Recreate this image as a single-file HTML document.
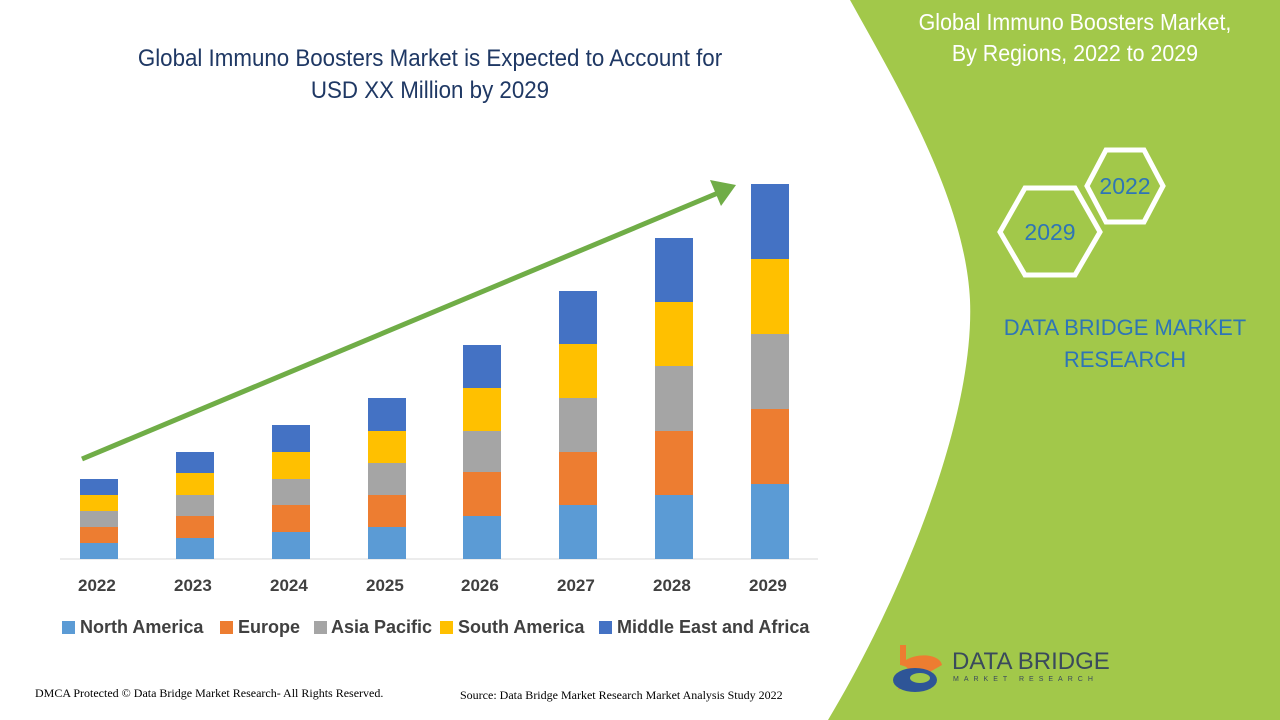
<!DOCTYPE html>
<html><head><meta charset="utf-8"><style>
body{margin:0;width:1280px;height:720px;overflow:hidden;background:#fff;font-family:"Liberation Sans",sans-serif;position:relative}
.t{position:absolute;white-space:nowrap}
</style></head><body>
<svg width="1280" height="720" style="position:absolute;left:0;top:0">
<path d="M850,0 L1280,0 L1280,720 L828,720 C900,600 975,420 970,300 C965,200 900,90 850,0 Z" fill="#a2c84a"/>
<g fill="none" stroke="#fff" stroke-width="5">
<polygon points="1106,150 1144,150 1163,186 1144,222 1106,222 1087,186"/>
<polygon points="1025,188 1075,188 1100,232 1075,275 1025,275 1000,232"/>
</g>
<line x1="818" y1="559" x2="60" y2="559" stroke="#d9d9d9" stroke-width="1"/>
<g id="bars"></g>
<line x1="82" y1="459" x2="718" y2="193" stroke="#70ad47" stroke-width="5"/>
<polygon points="736,185 710,180 721,206" fill="#70ad47"/>
<rect x="62" y="621" width="13" height="13" fill="#5b9bd5"/>
<rect x="220" y="621" width="13" height="13" fill="#ed7d31"/>
<rect x="314" y="621" width="13" height="13" fill="#a5a5a5"/>
<rect x="440" y="621" width="13" height="13" fill="#ffc000"/>
<rect x="599" y="621" width="13" height="13" fill="#4472c4"/>
<path d="M900,645 L906,645 L906,660 C920,652 940,655 942,665 L898,690 C905,672 915,668 900,665 Z" fill="#ed7d31"/>
<ellipse cx="915" cy="680" rx="22" ry="12" fill="#2e5597"/>
<ellipse cx="920" cy="678" rx="10" ry="5" fill="#a2c84a"/>
</svg>
<script>
var xs=[80,176,272,368,463,559,655,751];
var b=[[479,495,511,527,543],[452,473,495,516,538],[425,452,479,505,532],[398,431,463,495,527],[345,388,431,472,516],[291,344,398,452,505],[238,302,366,431,495],[184,259,334,409,484]];
var c=["#4472c4","#ffc000","#a5a5a5","#ed7d31","#5b9bd5"];
var s="";
for(var i=0;i<8;i++){var y=b[i].concat([559]);for(var k=0;k<5;k++){s+='<rect x="'+xs[i]+'" y="'+y[k]+'" width="38" height="'+(y[k+1]-y[k])+'" fill="'+c[k]+'"/>';}}
document.getElementById("bars").innerHTML=s;
</script>
<div class="t" style="left:70px;top:43px;width:720px;text-align:center;font-size:24px;color:#1f3864;line-height:32px;white-space:normal;transform:scaleX(0.93)">Global Immuno Boosters Market is Expected to Account for<br>USD XX Million by 2029</div>
<div class="t" style="left:865px;top:7px;width:420px;text-align:center;font-size:23px;color:#fff;line-height:31px;transform:scaleX(0.93)">Global Immuno Boosters Market,<br>By Regions, 2022 to 2029</div>
<div class="t" style="left:1087px;top:173px;width:76px;text-align:center;font-size:23px;color:#2e75b6">2022</div>
<div class="t" style="left:1000px;top:219px;width:100px;text-align:center;font-size:23px;color:#2e75b6">2029</div>
<div class="t" style="left:975px;top:312px;width:300px;text-align:center;font-size:22px;color:#2e75b6;line-height:32px">DATA BRIDGE MARKET<br>RESEARCH</div>
<div class="t" style="left:952px;top:648px;font-size:24px;color:#3a4a5c">DATA BRIDGE</div>
<div class="t" style="left:953px;top:676px;font-size:7px;color:#3a4a5c;letter-spacing:5px">MARKET RESEARCH</div>
<div style="position:absolute;top:576px;left:0;font-size:17px;font-weight:bold;color:#404040">
<span class="t" style="left:78px">2022</span><span class="t" style="left:174px">2023</span><span class="t" style="left:270px">2024</span><span class="t" style="left:366px">2025</span><span class="t" style="left:461px">2026</span><span class="t" style="left:557px">2027</span><span class="t" style="left:653px">2028</span><span class="t" style="left:749px">2029</span></div>
<div style="position:absolute;top:617px;left:0;font-size:18px;font-weight:bold;color:#404040">
<span class="t" style="left:80px">North America</span><span class="t" style="left:238px">Europe</span><span class="t" style="left:331px">Asia Pacific</span><span class="t" style="left:458px">South America</span><span class="t" style="left:617px">Middle East and Africa</span></div>
<div class="t" style="left:35px;top:686px;font-size:12px;font-family:'Liberation Serif',serif;color:#000">DMCA Protected © Data Bridge Market Research- All Rights Reserved.</div>
<div class="t" style="left:460px;top:688px;font-size:12px;font-family:'Liberation Serif',serif;color:#000">Source: Data Bridge Market Research Market Analysis Study 2022</div>
</body></html>
